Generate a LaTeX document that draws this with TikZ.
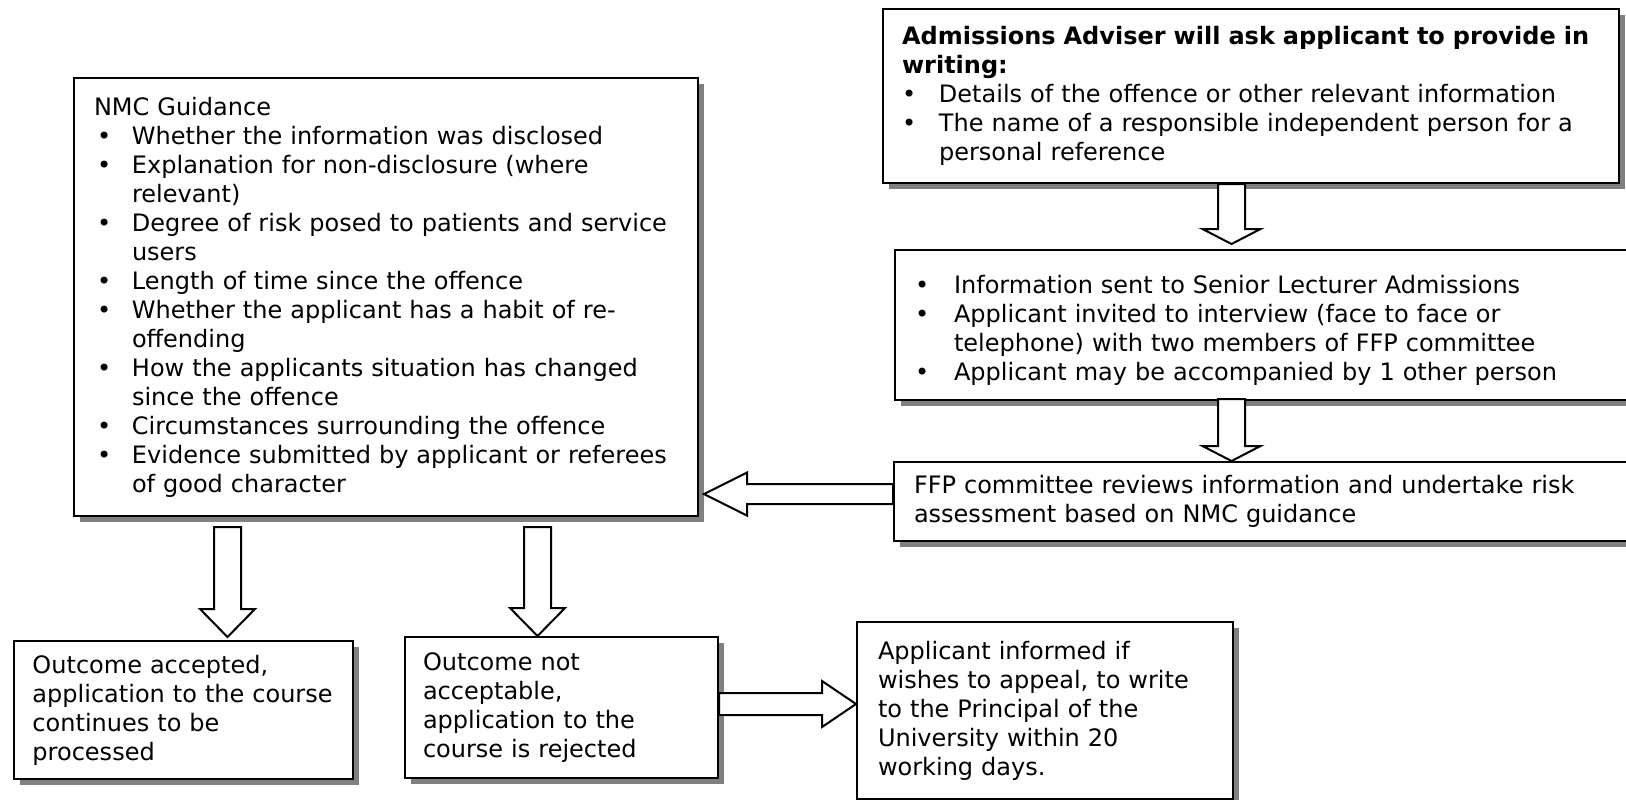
\documentclass[tikz,border=0pt]{standalone}
\usepackage{fontspec}
\setmainfont{DejaVu Sans}
\usetikzlibrary{positioning,calc,shadows}

\newlength{\bulind}
\newlength{\bulsh}
\newcommand{\bul}[1]{\par\hangindent=\bulind\hangafter=1\noindent\makebox[\bulind][l]{\hspace{\bulsh}\textbullet}#1\par}

% outlined block arrow: start, tip, shaft half width, head half width, head length
\newcommand{\blockarrow}[5]{%
	\coordinate (ba) at ($(#2)!#5!(#1)$);
	\draw[arrowbody] ($(#1)!#3!90:(#2)$) -- ($(ba)!#3!90:(#2)$) -- ($(ba)!#4!90:(#2)$) -- (#2)
		-- ($(ba)!#4!-90:(#2)$) -- ($(ba)!#3!-90:(#2)$) -- ($(#1)!#3!-90:(#2)$) -- cycle;
}

\tikzset{
	box/.style={draw, line width=1pt, fill=white, anchor=north west, align=left, inner ysep=0pt,
		font=\fontsize{12pt}{14.5pt}\selectfont,
		drop shadow={shadow xshift=3pt, shadow yshift=-3pt, fill=black!50, opacity=1}},
	arrowbody/.style={draw, line width=1pt, fill=white, line join=miter}
}

\begin{document}
\begin{tikzpicture}[x=0.5pt, y=-0.5pt]
		\clip (0,0) rectangle (1626,799);
		\fill[white] (0,0) rectangle (1626,799);

		\node[box, inner xsep=10pt, text width=292pt, minimum height=219pt,
			execute at begin node={\setlength{\bulind}{19pt}\setlength{\bulsh}{1.5pt}}] (nmc) at (73,77) {NMC Guidance
			\bul{Whether the information was disclosed}
			\bul{Explanation for non-disclosure (where\newline relevant)}
			\bul{Degree of risk posed to patients and service\newline users}
			\bul{Length of time since the offence}
			\bul{Whether the applicant has a habit of re-\newline offending}
			\bul{How the applicants situation has changed\newline since the offence}
			\bul{Circumstances surrounding the offence}
			\bul{Evidence submitted by applicant or referees\newline of good character}};

		\node[box, inner xsep=9.5pt, text width=349pt, minimum height=87pt,
			execute at begin node={\setlength{\bulind}{18.5pt}\setlength{\bulsh}{0pt}}] (adv) at (882,8) {\textbf{Admissions Adviser will ask applicant to provide in\\ writing:}
			\bul{Details of the offence or other relevant information}
			\bul{The name of a responsible independent person for a\newline personal reference}};

		\node[box, inner xsep=10pt, text width=360pt, minimum height=75pt,
			execute at begin node={\setlength{\bulind}{19.5pt}\setlength{\bulsh}{0pt}}] (info) at (894,249) {\bul{Information sent to Senior Lecturer Admissions}
			\bul{Applicant invited to interview (face to face or\newline telephone) with two members of FFP committee}
			\bul{Applicant may be accompanied by 1 other person}};

		\node[box, inner xsep=10pt, text width=360pt, minimum height=39.5pt] (ffp) at (893,461) {FFP committee reviews information and undertake risk\\ assessment based on NMC guidance};

		\node[box, inner xsep=9.25pt, text width=151pt, minimum height=69pt] (acc) at (13,640) {Outcome accepted,\\ application to the course\\ continues to be\\ processed};

		\node[box, inner xsep=9pt, text width=138.5pt, minimum height=70.5pt] (rej) at (404,636) {Outcome not\\ acceptable,\\ application to the\\ course is rejected};

		\node[box, inner xsep=10.5pt, text width=167pt, minimum height=88.5pt] (app) at (856,621) {Applicant informed if\\ wishes to appeal, to write\\ to the Principal of the\\ University within 20\\ working days.};

		% arrows between the boxes
		\coordinate (a1s) at ($(adv.south)+(-19.5,0)$);
		\coordinate (a1t) at ($(a1s |- info.north)+(0,-5)$);
		\blockarrow{a1s}{a1t}{6.75pt}{14.5pt}{7.5pt}

		\coordinate (a2s) at ($(a1s |- info.south)+(0,-2)$);
		\coordinate (a2t) at (a1s |- ffp.north);
		\blockarrow{a2s}{a2t}{6.75pt}{14.5pt}{7.5pt}

		\coordinate (a3s) at ($(ffp.west)+(0,-7.5)$);
		\coordinate (a3t) at ($(a3s -| nmc.east)+(5,0)$);
		\blockarrow{a3s}{a3t}{5pt}{10.75pt}{21.5pt}

		\coordinate (a4s) at ($(nmc.south west)+(154.5,10)$);
		\coordinate (a4t) at ($(a4s |- acc.north)+(0,-3)$);
		\blockarrow{a4s}{a4t}{6.75pt}{13.75pt}{14pt}

		\coordinate (a5s) at ($(nmc.south west)+(464.5,10)$);
		\coordinate (a5t) at (a5s |- rej.north);
		\blockarrow{a5s}{a5t}{6.75pt}{13.75pt}{14pt}

		\coordinate (a6s) at ($(rej.east)+(0,-3.5)$);
		\coordinate (a6t) at (a6s -| app.west);
		\blockarrow{a6s}{a6t}{5.5pt}{11.5pt}{17pt}
	\end{tikzpicture}
\end{document}
